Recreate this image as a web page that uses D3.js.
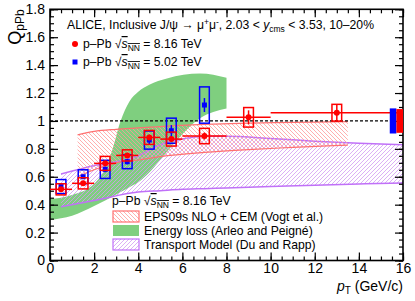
<!DOCTYPE html>
<html>
<head>
<meta charset="utf-8">
<script src="https://cdn.jsdelivr.net/npm/d3@7"></script>
<style>
body { margin: 0; background: #fff; }
text { font-family: "Liberation Sans", Arial, sans-serif; fill: #000; }
</style>
</head>
<body>
<div id="chart"></div>
<script>
// p-Pb 8.16 TeV points
const ptRed = [0.5, 1.5, 2.5, 3.5, 4.5, 5.5, 7, 9, 13];
const ptRedLo = [0, 1, 2, 3, 4, 5, 6, 8, 10];
const ptRedHi = [1, 2, 3, 4, 5, 6, 8, 10, 16];
const qRed = [0.51, 0.553, 0.696, 0.753, 0.882, 0.87, 0.892, 1.026, 1.059];
const statRed = [0.01, 0.012, 0.015, 0.015, 0.02, 0.02, 0.025, 0.05, 0.06];
const sysRed = [0.04, 0.04, 0.05, 0.04, 0.05, 0.05, 0.055, 0.07, 0.06];

// p-Pb 5.02 TeV points
const ptBlue = [0.5, 1.5, 2.5, 3.5, 4.5, 5.5, 7];
const qBlue = [0.53, 0.60, 0.653, 0.708, 0.863, 0.93, 1.114];
const statBlue = [0.01, 0.015, 0.02, 0.02, 0.03, 0.04, 0.05];
const sysBlue = [0.05, 0.05, 0.065, 0.05, 0.065, 0.09, 0.13];

// global uncertainties
const globBlue = 0.09;
const globRed = 0.085;

// EPS09s NLO + CEM band
const epsPt = [1.25, 2, 3, 4, 5, 7, 9, 11, 13.5];
const epsHi = [0.90, 0.925, 0.94, 0.95, 0.96, 0.975, 0.985, 0.99, 0.995];
const epsLo = [0.60, 0.65, 0.70, 0.72, 0.745, 0.775, 0.795, 0.81, 0.827];

// Energy loss band
const elossPt = [0, 1, 2, 2.5, 2.8, 3.2, 3.6, 4, 4.5, 5.3, 6.8, 8];
const elossHi = [0.44, 0.47, 0.55, 0.66, 0.78, 1.0, 1.14, 1.21, 1.26, 1.305, 1.34, 1.31];
const elossLo = [0.29, 0.32, 0.39, 0.43, 0.455, 0.49, 0.525, 0.56, 0.63, 0.78, 1.02, 1.09];

// Transport model band
const trPt = [0.5, 2, 4, 5, 6, 7, 8, 10, 12, 14, 16];
const trHi = [0.62, 0.68, 0.75, 0.83, 0.87, 0.89, 0.89, 0.875, 0.855, 0.84, 0.83];
const trLo = [0.385, 0.43, 0.49, 0.50, 0.51, 0.515, 0.52, 0.53, 0.54, 0.548, 0.555];

const width = 415, height = 301;
const margin = {left: 50, right: 12, top: 9.3, bottom: 40.5};

let svg = d3.select("#chart")
    .append("svg")
    .attr("width", width)
    .attr("height", height);

let x = d3.scaleLinear().domain([0, 16]).range([margin.left, width - margin.right]);
let y = d3.scaleLinear().domain([0, 1.8]).range([height - margin.bottom, margin.top]);

let defs = svg.append("defs");
function hatch(id, color, dir) {
    let p = defs.append("pattern")
        .attr("id", id)
        .attr("patternUnits", "userSpaceOnUse")
        .attr("width", 4).attr("height", 4);
    let d = dir > 0 ? "M0,4 L4,0 M-1,1 L1,-1 M3,5 L5,3" : "M0,0 L4,4 M-1,3 L1,5 M3,-1 L5,1";
    p.append("path").attr("d", d).attr("stroke", color).attr("stroke-width", 0.8);
}
hatch("hRed", "#ff9a9a", -1);
hatch("hPurple", "#d29cf2", 1);

function band(pts, hi, lo) {
    return d3.area()
        .x(i => x(pts[i]))
        .y0(i => y(lo[i]))
        .y1(i => y(hi[i]))
        .curve(d3.curveMonotoneX)(d3.range(pts.length));
}
function edge(pts, vals) {
    return d3.line()
        .x(i => x(pts[i]))
        .y(i => y(vals[i]))
        .curve(d3.curveMonotoneX)(d3.range(pts.length));
}

// models
svg.append("path").attr("d", band(elossPt, elossHi, elossLo)).attr("fill", "#7fcf7f");

svg.append("path").attr("d", band(trPt, trHi, trLo)).attr("fill", "url(#hPurple)");
svg.append("path").attr("d", edge(trPt, trHi)).attr("fill", "none").attr("stroke", "#c070f8").attr("stroke-width", 1.5);
svg.append("path").attr("d", edge(trPt, trLo)).attr("fill", "none").attr("stroke", "#c070f8").attr("stroke-width", 1.5);

svg.append("path").attr("d", band(epsPt, epsHi, epsLo)).attr("fill", "url(#hRed)");
svg.append("path").attr("d", edge(epsPt, epsHi)).attr("fill", "none").attr("stroke", "#ff7070").attr("stroke-width", 1.2);
svg.append("path").attr("d", edge(epsPt, epsLo)).attr("fill", "none").attr("stroke", "#ff7070").attr("stroke-width", 1.2);

// unity line
svg.append("line")
    .attr("x1", x(0)).attr("x2", x(15.4))
    .attr("y1", y(1)).attr("y2", y(1))
    .attr("stroke", "#000").attr("stroke-width", 1.3)
    .attr("stroke-dasharray", "3,2");

// axes
let ax = svg.append("g");
function drawAxes() {
    let xMaj = d3.range(0, 17, 2), xMin = d3.range(0, 16.01, 0.5);
    let yMaj = d3.range(0, 1.81, 0.2), yMin = d3.range(0, 1.801, 0.05);
    let bottom = y(0), top = y(1.8), left = x(0), right = x(16);

    ax.append("g").attr("transform", `translate(0,${bottom})`)
        .call(d3.axisBottom(x).tickValues(xMin).tickSize(-4).tickFormat(""));
    ax.append("g").attr("transform", `translate(0,${bottom})`)
        .call(d3.axisBottom(x).tickValues(xMaj).tickSize(-8).tickPadding(3).tickFormat(d3.format("d")));
    ax.append("g").attr("transform", `translate(0,${top})`)
        .call(d3.axisTop(x).tickValues(xMin).tickSize(-4).tickFormat(""));
    ax.append("g").attr("transform", `translate(0,${top})`)
        .call(d3.axisTop(x).tickValues(xMaj).tickSize(-8).tickFormat(""));
    ax.append("g").attr("transform", `translate(${left},0)`)
        .call(d3.axisLeft(y).tickValues(yMin).tickSize(-4).tickFormat(""));
    ax.append("g").attr("transform", `translate(${left},0)`)
        .call(d3.axisLeft(y).tickValues(yMaj).tickSize(-8).tickPadding(5)
            .tickFormat(d => d3.format("~g")(+d.toFixed(1))));
    ax.append("g").attr("transform", `translate(${right},0)`)
        .call(d3.axisRight(y).tickValues(yMin).tickSize(-4).tickFormat(""));
    ax.append("g").attr("transform", `translate(${right},0)`)
        .call(d3.axisRight(y).tickValues(yMaj).tickSize(-8).tickFormat(""));

    ax.selectAll(".domain").remove();
    ax.selectAll(".tick line").attr("stroke", "#000").attr("stroke-width", 1.2);
    ax.selectAll(".tick text").style("font-size", "14px").style("font-family", "Liberation Sans, Arial, sans-serif");

    ax.append("rect")
        .attr("x", left).attr("y", top)
        .attr("width", right - left).attr("height", bottom - top)
        .attr("fill", "none").attr("stroke", "#000").attr("stroke-width", 1.6);
}
drawAxes();

// data
let hw = 0.22;
let blue = svg.append("g");
ptBlue.forEach((p, i) => {
    blue.append("rect")
        .attr("x", x(p - hw)).attr("width", x(p + hw) - x(p - hw))
        .attr("y", y(qBlue[i] + sysBlue[i])).attr("height", y(qBlue[i] - sysBlue[i]) - y(qBlue[i] + sysBlue[i]))
        .attr("fill", "none").attr("stroke", "#0000ff").attr("stroke-width", 1.5);
    blue.append("line")
        .attr("x1", x(p)).attr("x2", x(p))
        .attr("y1", y(qBlue[i] + statBlue[i])).attr("y2", y(qBlue[i] - statBlue[i]))
        .attr("stroke", "#0000ff").attr("stroke-width", 1.5);
    blue.append("rect")
        .attr("x", x(p) - 2.5).attr("y", y(qBlue[i]) - 2.5)
        .attr("width", 5).attr("height", 5)
        .attr("fill", "#0000ff");
});

let red = svg.append("g");
ptRed.forEach((p, i) => {
    red.append("rect")
        .attr("x", x(p - hw)).attr("width", x(p + hw) - x(p - hw))
        .attr("y", y(qRed[i] + sysRed[i])).attr("height", y(qRed[i] - sysRed[i]) - y(qRed[i] + sysRed[i]))
        .attr("fill", "none").attr("stroke", "#ff0000").attr("stroke-width", 1.5);
    red.append("line")
        .attr("x1", x(ptRedLo[i])).attr("x2", x(ptRedHi[i]))
        .attr("y1", y(qRed[i])).attr("y2", y(qRed[i]))
        .attr("stroke", "#ff0000").attr("stroke-width", 1.5);
    red.append("line")
        .attr("x1", x(p)).attr("x2", x(p))
        .attr("y1", y(qRed[i] + statRed[i])).attr("y2", y(qRed[i] - statRed[i]))
        .attr("stroke", "#ff0000").attr("stroke-width", 1.5);
    red.append("circle")
        .attr("cx", x(p)).attr("cy", y(qRed[i]))
        .attr("r", 3)
        .attr("fill", "#ff0000");
});

// global uncertainty boxes, over the last red horizontal bar
svg.append("rect")
    .attr("x", x(15.4)).attr("width", x(15.7) - x(15.4))
    .attr("y", y(1 + globBlue)).attr("height", y(1 - globBlue) - y(1 + globBlue))
    .attr("fill", "#0000ff");
svg.append("rect")
    .attr("x", x(15.7)).attr("width", x(16) - x(15.7))
    .attr("y", y(1 + globRed)).attr("height", y(1 - globRed) - y(1 + globRed))
    .attr("fill", "#ff0000");

// axis titles
let yt = svg.append("text")
    .attr("transform", `translate(21, ${margin.top}) rotate(-90)`)
    .style("text-anchor", "end")
    .style("font-size", "18px");
yt.append("tspan").text("Q");
yt.append("tspan").attr("dy", 3).style("font-size", "12px").text("pPb");

let xt = svg.append("text")
    .attr("x", x(16)).attr("y", 291)
    .style("text-anchor", "end")
    .style("font-size", "14px");
xt.append("tspan").style("font-style", "italic").text("p");
xt.append("tspan").attr("dy", 3).style("font-size", "10px").text("T");
xt.append("tspan").attr("dy", -3).text(" (GeV/c)");

// sqrt(s_NN) helper
function sqrtS(t, rest) {
    t.append("tspan").text("\u221A");
    t.append("tspan").style("font-style", "italic").style("text-decoration", "overline").text("s");
    t.append("tspan").attr("dy", 3).style("font-size", "8.5px").style("text-decoration", "overline").text("NN");
    t.append("tspan").attr("dy", -3).text(rest);
}

// top legend
let fs = "12.2px";
let t1 = svg.append("text").attr("x", 67).attr("y", 29).style("font-size", fs);
t1.append("tspan").text("ALICE, Inclusive J/\u03C8 \u2192 \u03BC");
t1.append("tspan").attr("dy", -4).style("font-size", "8.5px").text("+");
t1.append("tspan").attr("dy", 4).text("\u03BC");
t1.append("tspan").attr("dy", -4).style("font-size", "8.5px").text("-");
t1.append("tspan").attr("dy", 4).text(", 2.03 < ");
t1.append("tspan").style("font-style", "italic").text("y");
t1.append("tspan").attr("dy", 3).style("font-size", "8.5px").text("cms");
t1.append("tspan").attr("dy", -3).text(" < 3.53, 10\u201320%");

svg.append("circle").attr("cx", 75).attr("cy", 44).attr("r", 3).attr("fill", "#ff0000");
let t2 = svg.append("text").attr("x", 83).attr("y", 48).style("font-size", fs);
t2.append("tspan").text("p\u2013Pb ");
sqrtS(t2, " = 8.16 TeV");

svg.append("rect").attr("x", 72.5).attr("y", 59.5).attr("width", 5).attr("height", 5).attr("fill", "#0000ff");
let t3 = svg.append("text").attr("x", 83).attr("y", 66).style("font-size", fs);
t3.append("tspan").text("p\u2013Pb ");
sqrtS(t3, " = 5.02 TeV");

// model legend
let t4 = svg.append("text").attr("x", 112).attr("y", 205).style("font-size", fs);
t4.append("tspan").text("p\u2013Pb ");
sqrtS(t4, " = 8.16 TeV");

const legendLabels = ["EPS09s NLO + CEM (Vogt et al.)", "Energy loss (Arleo and Peign\u00E9)", "Transport Model (Du and Rapp)"];
const legendFill = ["url(#hRed)", "#7fcf7f", "url(#hPurple)"];
const legendStroke = ["#ff7070", "none", "#c070f8"];
legendLabels.forEach((lab, i) => {
    let cy = 216.5 + i * 14;
    svg.append("rect")
        .attr("x", 113).attr("y", cy - 5.5)
        .attr("width", 26).attr("height", 11)
        .attr("fill", legendFill[i])
        .attr("stroke", legendStroke[i]).attr("stroke-width", 1.2);
    svg.append("text")
        .attr("x", 144).attr("y", cy + 4)
        .style("font-size", fs)
        .text(lab);
});
</script>
</body>
</html>
